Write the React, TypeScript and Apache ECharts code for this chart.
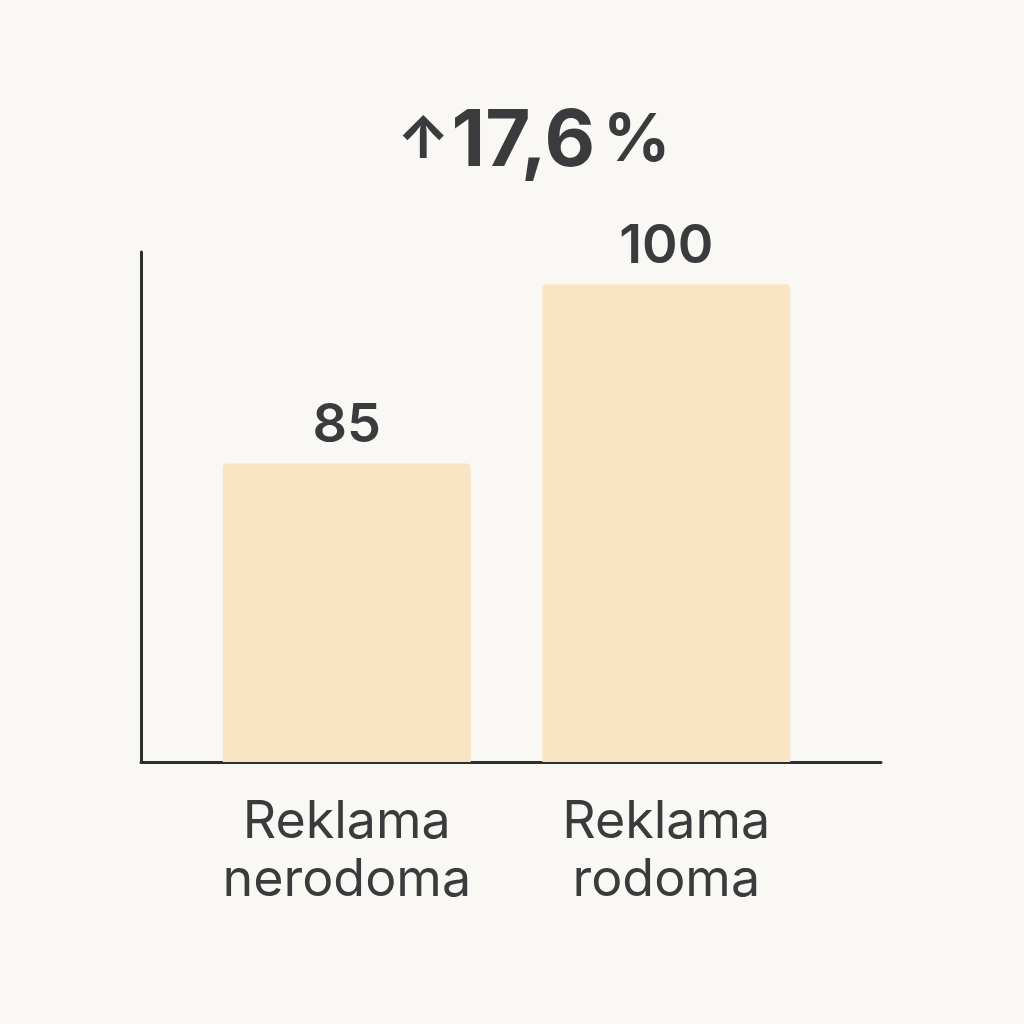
import React, { useEffect, useRef } from "react";
import * as echarts from "echarts";

const categories = ["Reklama\nnerodoma", "Reklama\nrodoma"];
const values = [85, 100];
const titleArrow = "↑";
const titleNumber = "17,6";
const titleUnit = "%";

export default function App() {
  const ref = useRef<HTMLDivElement>(null);
  useEffect(() => {
    if (!ref.current) return;
    const chart = echarts.init(ref.current, null, { renderer: "svg" });
    const font = "Inter, Roboto, 'Noto Sans', sans-serif";
    const textColor = "#3b3b3d";
    chart.setOption({
      animation: false,
      backgroundColor: "#f9f8f4",
      title: {
        left: 392,
        top: 93,
        text: `{a|${titleArrow}}{b|${titleNumber}}{c|${titleUnit}}`,
        textStyle: {
          rich: {
            a: { fontSize: 58, fontWeight: 700, color: textColor, fontFamily: font, padding: [0, 2, 0, 0] },
            b: { fontSize: 78, fontWeight: 700, color: textColor, fontFamily: font },
            c: { fontSize: 66, fontWeight: 700, color: textColor, fontFamily: font, padding: [0, 0, 0, 8] },
          },
        },
      },
      grid: [
        { left: 187, right: 198, top: 252, bottom: 262 },
        { left: 141, right: 143, top: 252, bottom: 262 },
      ],
      xAxis: [
        {
          type: "category",
          gridIndex: 0,
          data: categories,
          axisLine: { show: false },
          axisTick: { show: false },
          axisLabel: {
            interval: 0,
            margin: 28,
            fontSize: 52,
            lineHeight: 58,
            color: textColor,
            fontFamily: font,
            fontWeight: 400,
          },
        },
        {
          type: "value",
          gridIndex: 1,
          min: 0,
          max: 1,
          axisLine: { show: true, lineStyle: { color: "#2e2e2e", width: 3 } },
          axisTick: { show: false },
          axisLabel: { show: false },
          splitLine: { show: false },
        },
      ],
      yAxis: [
        {
          type: "value",
          gridIndex: 0,
          min: 60,
          max: 102.7,
          axisLine: { show: false },
          axisTick: { show: false },
          axisLabel: { show: false },
          splitLine: { show: false },
        },
        {
          type: "value",
          gridIndex: 1,
          min: 0,
          max: 1,
          axisLine: { show: true, lineStyle: { color: "#2e2e2e", width: 3 } },
          axisTick: { show: false },
          axisLabel: { show: false },
          splitLine: { show: false },
        },
      ],
      series: [
        {
          type: "bar",
          xAxisIndex: 0,
          yAxisIndex: 0,
          data: values,
          barWidth: 248,
          itemStyle: { color: "#f9e5c3", borderRadius: [4, 4, 0, 0] },
          label: {
            show: true,
            position: "top",
            distance: 14,
            fontSize: 54,
            fontWeight: 600,
            color: textColor,
            fontFamily: font,
          },
        },
      ],
    });
    return () => chart.dispose();
  }, []);
  return <div ref={ref} style={{ width: 1024, height: 1024, position: "absolute", left: 0, top: 0 }} />;
}
